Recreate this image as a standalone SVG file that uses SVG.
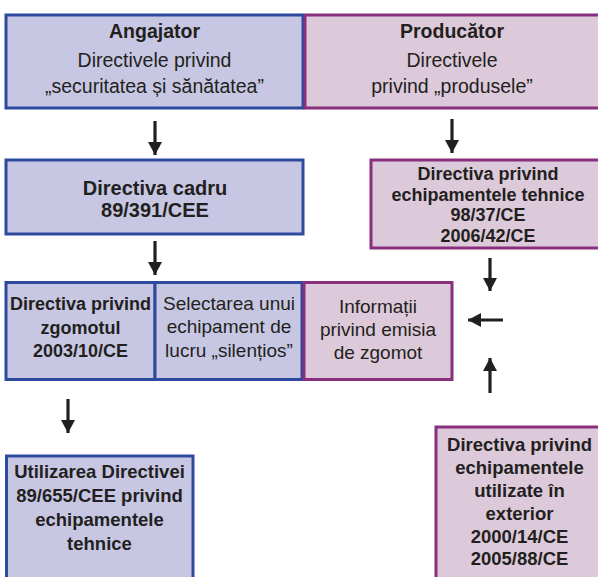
<svg xmlns="http://www.w3.org/2000/svg" width="598" height="577" viewBox="0 0 598 577">
  <defs>
    <style>
      .blue { fill: #c7c7e3; stroke: #2d4a9f; stroke-width: 3; }
      .purple { fill: #dcc9da; stroke: #882f7e; stroke-width: 3; }
      text { font-family: "Liberation Sans", Arial, sans-serif; fill: #231f20; text-anchor: middle; }
      .b { font-weight: bold; }
      .conn { stroke: #231f20; stroke-width: 3.2; fill: none; marker-end: url(#arrow); }
    </style>
    <marker id="arrow" markerUnits="userSpaceOnUse" markerWidth="14" markerHeight="14" refX="13" refY="7" orient="auto">
      <path d="M0,0 L13,7 L0,14 Z" fill="#231f20"/>
    </marker>
  </defs>

  <rect width="598" height="577" fill="#ffffff"/>

  <!-- Employer: workplace safety and health directives -->
  <g id="angajator">
    <rect class="blue" x="6" y="15" width="297" height="93"/>
    <text x="154.5" y="38" class="b" font-size="19.5">Angajator</text>
    <text x="154.5" y="67" font-size="19.5">Directivele privind</text>
    <text x="154.5" y="93" font-size="19.5">„securitatea și sănătatea”</text>
  </g>

  <!-- Manufacturer: product directives -->
  <g id="producator">
    <rect class="purple" x="305" y="15" width="296" height="93"/>
    <text x="452" y="38" class="b" font-size="19.5">Producător</text>
    <text x="452" y="67" font-size="19.5">Directivele</text>
    <text x="452" y="93" font-size="19.5">privind „produsele”</text>
  </g>

  <g id="directiva-cadru">
    <rect class="blue" x="6" y="160" width="297" height="74"/>
    <text x="155" y="195" class="b" font-size="20">Directiva cadru</text>
    <text x="155" y="217" class="b" font-size="20">89/391/CEE</text>
  </g>

  <g id="echipamente-tehnice">
    <rect class="purple" x="371" y="160" width="230" height="88"/>
    <text x="488" y="180" class="b" font-size="18">Directiva privind</text>
    <text x="488" y="200.5" class="b" font-size="18">echipamentele tehnice</text>
    <text x="488" y="221" class="b" font-size="18">98/37/CE</text>
    <text x="488" y="241.5" class="b" font-size="18">2006/42/CE</text>
  </g>

  <g id="directiva-zgomot">
    <rect class="blue" x="6" y="282.5" width="149" height="97"/>
    <text x="80.5" y="310" class="b" font-size="18">Directiva privind</text>
    <text x="80.5" y="334" class="b" font-size="18">zgomotul</text>
    <text x="80.5" y="357" class="b" font-size="18">2003/10/CE</text>
  </g>

  <g id="selectarea">
    <rect class="blue" x="155" y="282.5" width="147" height="97"/>
    <text x="229" y="310" font-size="19">Selectarea unui</text>
    <text x="229" y="333" font-size="19">echipament de</text>
    <text x="229" y="357" font-size="19">lucru „silențios”</text>
  </g>

  <g id="informatii">
    <rect class="purple" x="304" y="282.5" width="148" height="97"/>
    <text x="378" y="313" font-size="19">Informații</text>
    <text x="378" y="336" font-size="19">privind emisia</text>
    <text x="378" y="359" font-size="19">de zgomot</text>
  </g>

  <g id="utilizarea">
    <rect class="blue" x="6.5" y="456" width="186.5" height="130"/>
    <text x="99.5" y="478" class="b" font-size="18.5">Utilizarea Directivei</text>
    <text x="99.5" y="502" class="b" font-size="18.5">89/655/CEE privind</text>
    <text x="99.5" y="526" class="b" font-size="18.5">echipamentele</text>
    <text x="99.5" y="550" class="b" font-size="18.5">tehnice</text>
  </g>

  <g id="echipamente-exterior">
    <rect class="purple" x="436" y="427" width="165" height="160"/>
    <text x="519.5" y="451" class="b" font-size="18.5">Directiva privind</text>
    <text x="519.5" y="474" class="b" font-size="18.5">echipamentele</text>
    <text x="519.5" y="497" class="b" font-size="18.5">utilizate în</text>
    <text x="519.5" y="520" class="b" font-size="18.5">exterior</text>
    <text x="519.5" y="543" class="b" font-size="18.5">2000/14/CE</text>
    <text x="519.5" y="565" class="b" font-size="18.5">2005/88/CE</text>
  </g>

  <g id="connectors">
    <path class="conn" d="M155,121 V155"/>
    <path class="conn" d="M155,241 V275"/>
    <path class="conn" d="M452,119 V153"/>
    <path class="conn" d="M490,258 V291"/>
    <path class="conn" d="M503,320 H468"/>
    <path class="conn" d="M490,393 V358"/>
    <path class="conn" d="M68,399 V433"/>
  </g>
</svg>
